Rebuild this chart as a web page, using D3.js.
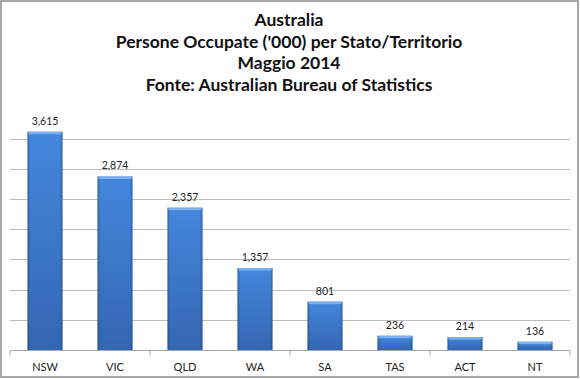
<!DOCTYPE html>
<html>
<head>
<meta charset="utf-8">
<script src="https://cdn.jsdelivr.net/npm/d3@7"></script>
<style>
body { margin: 0; background: #fff; }
svg { display: block; font-family: Lato, "Open Sans", sans-serif; }
</style>
</head>
<body>
<svg id="chart" width="580" height="379"></svg>
<script>
// data
var states = ["NSW", "VIC", "QLD", "WA", "SA", "TAS", "ACT", "NT"];
var employed = [3615, 2874, 2357, 1357, 801, 236, 214, 136];
var gridTicks = [500, 1000, 1500, 2000, 2500, 3000, 3500];
var titleLines = ["Australia", "Persone Occupate ('000) per Stato/Territorio", "Maggio 2014", "Fonte: Australian Bureau of Statistics"];

var W = 580, H = 379;
var plot = {left: 10, right: 570, top: 108.5, bottom: 350};

var svg = d3.select("#chart");

// chart border
svg.append("rect")
	.attr("x", 1).attr("y", 1)
	.attr("width", W - 3).attr("height", H - 3)
	.attr("fill", "#fff")
	.attr("stroke", "#8c8c8c")
	.attr("stroke-width", 1.5);

// gradients for the bars
var defs = svg.append("defs");
var vg = defs.append("linearGradient").attr("id", "barV")
	.attr("x1", 0).attr("y1", 0).attr("x2", 0).attr("y2", 1);
vg.append("stop").attr("offset", "0%").attr("stop-color", "#4487dc");
vg.append("stop").attr("offset", "100%").attr("stop-color", "#3466b2");

var hg = defs.append("linearGradient").attr("id", "barH")
	.attr("x1", 0).attr("y1", 0).attr("x2", 1).attr("y2", 0);
hg.append("stop").attr("offset", "0%").attr("stop-color", "#1d3f74").attr("stop-opacity", 0.45);
hg.append("stop").attr("offset", "8%").attr("stop-color", "#1d3f74").attr("stop-opacity", 0);
hg.append("stop").attr("offset", "92%").attr("stop-color", "#1d3f74").attr("stop-opacity", 0);
hg.append("stop").attr("offset", "100%").attr("stop-color", "#1d3f74").attr("stop-opacity", 0.45);

// scales
var x = d3.scaleBand().domain(states).range([plot.left, plot.right]).paddingInner(0.5).paddingOuter(0.25);
var y = d3.scaleLinear().domain([0, 4000]).range([plot.bottom, plot.top]);

// gridlines
svg.append("g").selectAll("line")
	.data(gridTicks)
	.join("line")
	.attr("x1", plot.left).attr("x2", plot.right)
	.attr("y1", d => Math.round(y(d)) + 0.5).attr("y2", d => Math.round(y(d)) + 0.5)
	.attr("stroke", "#bdbdbd").attr("stroke-width", 1);

// bars
var bars = svg.append("g").selectAll("g")
	.data(states)
	.join("g");

bars.append("rect")
	.attr("x", d => x(d))
	.attr("y", (d, i) => y(employed[i]))
	.attr("width", x.bandwidth())
	.attr("height", (d, i) => y(0) - y(employed[i]))
	.attr("fill", "url(#barV)");

bars.append("rect")
	.attr("x", d => x(d))
	.attr("y", (d, i) => y(employed[i]))
	.attr("width", x.bandwidth())
	.attr("height", (d, i) => y(0) - y(employed[i]))
	.attr("fill", "url(#barH)");

// top highlight
bars.append("rect")
	.attr("x", d => x(d) + 1)
	.attr("y", (d, i) => y(employed[i]))
	.attr("width", x.bandwidth() - 2)
	.attr("height", 2.5)
	.attr("fill", "#7db0f0");

// value labels
svg.append("g").selectAll("text")
	.data(states)
	.join("text")
	.attr("x", d => x(d) + x.bandwidth() / 2)
	.attr("y", (d, i) => y(employed[i]) - 7)
	.attr("text-anchor", "middle")
	.attr("font-size", 10.5)
	.attr("fill", "#222")
	.text((d, i) => d3.format(",")(employed[i]));

// x axis
var xAxis = svg.append("g")
	.attr("transform", "translate(0," + (plot.bottom + 0.5) + ")");
xAxis.append("line")
	.attr("x1", plot.left).attr("x2", plot.right)
	.attr("stroke", "#a6a6a6");
var tickPos = d3.range(0, states.length + 1, 2).map(i => plot.left + i * x.step());
xAxis.selectAll(".tk")
	.data(tickPos)
	.join("line")
	.attr("class", "tk")
	.attr("x1", d => d).attr("x2", d => d)
	.attr("y1", 0).attr("y2", 5)
	.attr("stroke", "#a6a6a6");
xAxis.selectAll("text")
	.data(states)
	.join("text")
	.attr("x", d => x(d) + x.bandwidth() / 2)
	.attr("y", 20)
	.attr("text-anchor", "middle")
	.attr("font-size", 11)
	.attr("fill", "#222")
	.text(d => d);

// title
svg.append("g").selectAll("text")
	.data(titleLines)
	.join("text")
	.attr("x", 289)
	.attr("y", (d, i) => 26 + i * 21.5)
	.attr("text-anchor", "middle")
	.attr("font-size", 17.5)
	.attr("font-weight", "bold")
	.attr("fill", "#111")
	.text(d => d);
</script>
</body>
</html>
